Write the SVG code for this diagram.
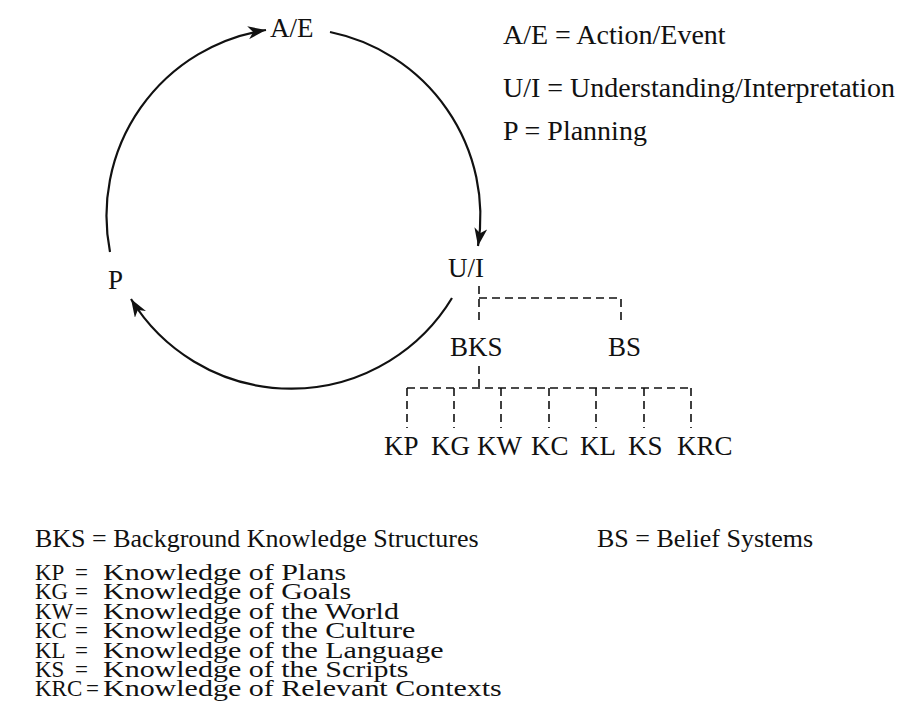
<svg xmlns="http://www.w3.org/2000/svg" width="903" height="701" viewBox="0 0 903 701">
  <style>
    text { font-family: "Liberation Serif", "Times New Roman", serif; fill: #111; }
    .node { font-size: 27px; }
    .legend { font-size: 28px; }
    .key { font-size: 26px; }
    .list { font-size: 30px; }
    .abbr { font-size: 23px; }
    .arc { fill: none; stroke: #111; stroke-width: 2.2; }
    .dash { fill: none; stroke: #111; stroke-width: 1.6; stroke-dasharray: 8 5; }
  </style>
  <defs>
    <marker id="arrow" markerUnits="userSpaceOnUse" markerWidth="19" markerHeight="13" refX="18" refY="6.5" orient="auto">
      <path d="M0,0 L18,6.5 L0,13 L5,6.5 Z" fill="#111"/>
    </marker>
  </defs>

  <rect width="903" height="701" fill="#fff"/>

  <!-- cycle connectors -->
  <g id="connectors">
    <path class="arc" d="M110,252 A188,188 0 0 1 266,30" marker-end="url(#arrow)"/>
    <path class="arc" d="M330,32 A188,188 0 0 1 478,246" marker-end="url(#arrow)"/>
    <path class="arc" d="M452,298 A188,188 0 0 1 131,299" marker-end="url(#arrow)"/>
    <!-- U/I -> BKS / BS -->
    <path class="dash" d="M479,286 V320 M479,298 H621 V320"/>
    <!-- BKS -> knowledge types -->
    <path class="dash" d="M479,366 V388 M407,388 H691 M407,388 V428 M454,388 V428 M501,388 V428 M549,388 V428 M596,388 V428 M644,388 V428 M691,388 V428"/>
  </g>

  <!-- cycle nodes -->
  <g id="node-ae"><text class="node" x="270" y="37">A/E</text></g>
  <g id="node-ui"><text class="node" x="448" y="277">U/I</text></g>
  <g id="node-p"><text class="node" x="108" y="289">P</text></g>

  <!-- tree nodes -->
  <g id="node-bks"><text class="node" x="450" y="356">BKS</text></g>
  <g id="node-bs"><text class="node" x="608" y="356">BS</text></g>
  <g id="node-kp"><text class="node" x="384" y="455">KP</text></g>
  <g id="node-kg"><text class="node" x="431" y="455">KG</text></g>
  <g id="node-kw"><text class="node" x="477" y="455">KW</text></g>
  <g id="node-kc"><text class="node" x="531" y="455">KC</text></g>
  <g id="node-kl"><text class="node" x="580" y="455">KL</text></g>
  <g id="node-ks"><text class="node" x="628" y="455">KS</text></g>
  <g id="node-krc"><text class="node" x="677" y="455">KRC</text></g>

  <!-- key for the cycle -->
  <g id="key-cycle">
    <text class="legend" x="503" y="44">A/E = Action/Event</text>
    <text class="legend" x="503" y="97">U/I = Understanding/Interpretation</text>
    <text class="legend" x="503" y="140">P = Planning</text>
  </g>

  <!-- key for the knowledge structures -->
  <g id="key-structures">
    <text class="key" x="35" y="547">BKS = Background Knowledge Structures</text>
    <text class="key" x="597" y="547">BS = Belief Systems</text>
    <!-- abbreviation column -->
    <g class="abbr">
      <text class="abbr" x="35" y="580">KP</text>
      <text class="abbr" x="35" y="599.4">KG</text>
      <text class="abbr" x="35" y="618.8">KW</text>
      <text class="abbr" x="35" y="638.1">KC</text>
      <text class="abbr" x="35" y="657.5">KL</text>
      <text class="abbr" x="35" y="676.9">KS</text>
      <text class="abbr" x="35" y="696.3">KRC</text>
      <text class="abbr" x="75" y="580">=</text>
      <text class="abbr" x="75" y="599.4">=</text>
      <text class="abbr" x="75" y="618.8">=</text>
      <text class="abbr" x="75" y="638.1">=</text>
      <text class="abbr" x="75" y="657.5">=</text>
      <text class="abbr" x="75" y="676.9">=</text>
      <text class="abbr" x="86" y="696.3">=</text>
    </g>
    <!-- meanings, set in a vertically condensed face -->
    <g transform="translate(0,580) scale(1,0.76)">
      <text class="list" x="103" y="0">Knowledge of Plans</text>
      <text class="list" x="103" y="25.5">Knowledge of Goals</text>
      <text class="list" x="103" y="51">Knowledge of the World</text>
      <text class="list" x="103" y="76.5">Knowledge of the Culture</text>
      <text class="list" x="103" y="102">Knowledge of the Language</text>
      <text class="list" x="103" y="127.5">Knowledge of the Scripts</text>
      <text class="list" x="103" y="153">Knowledge of Relevant Contexts</text>
    </g>
  </g>
</svg>
